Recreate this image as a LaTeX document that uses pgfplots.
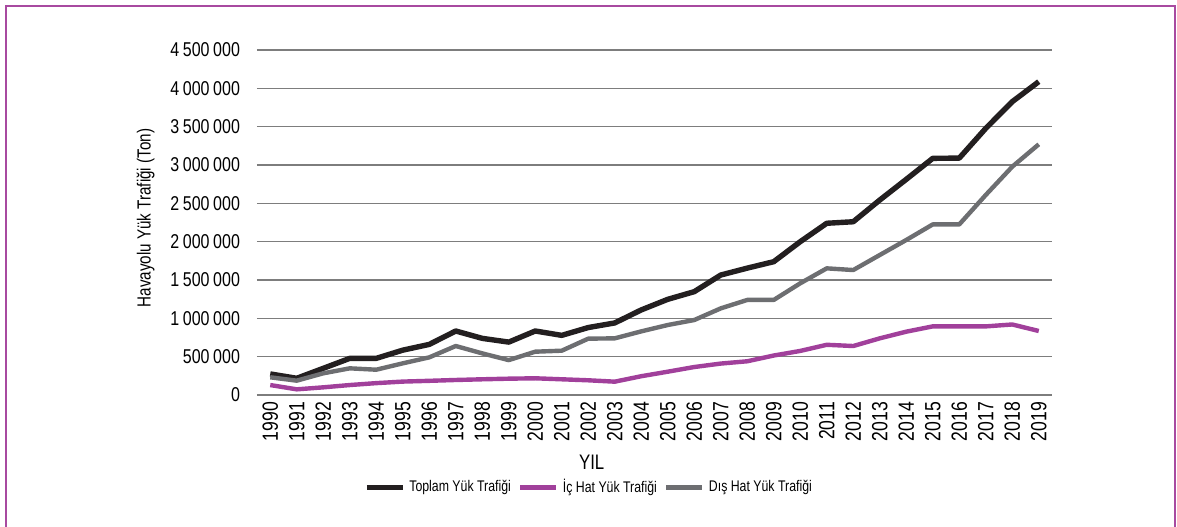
\documentclass[border=0pt]{standalone}
\usepackage{fontspec}
\setmainfont[FakeStretch=0.8]{Liberation Sans}
\usepackage{pgfplots}
\pgfplotsset{compat=1.18}
\definecolor{toplam}{RGB}{35,31,32}
\definecolor{ichat}{RGB}{161,64,155}
\definecolor{dishat}{RGB}{109,110,113}
\definecolor{frame}{RGB}{168,74,160}
\definecolor{gridc}{RGB}{125,125,125}
\newcommand{\ts}{\hspace{0.18em}}
\begin{document}
\begin{tikzpicture}
\begin{axis}[
  width=397.5pt, height=172.5pt, scale only axis,
  xmin=1989.5, xmax=2019.5,
  ymin=0, ymax=4500000,
  xtick={1990,...,2019},
  xticklabels={1990,1991,1992,1993,1994,1995,1996,1997,1998,1999,2000,2001,2002,2003,2004,2005,2006,2007,2008,2009,2010,2011,2012,2013,2014,2015,2016,2017,2018,2019},
  ytick={0,500000,1000000,1500000,2000000,2500000,3000000,3500000,4000000,4500000},
  yticklabels={0,500\ts000,1\ts000\ts000,1\ts500\ts000,2\ts000\ts000,2\ts500\ts000,3\ts000\ts000,3\ts500\ts000,4\ts000\ts000,4\ts500\ts000},
  scaled y ticks=false,
  axis line style={draw=none},
  major tick length=0pt,
  ymajorgrids,
  grid style={gridc, line width=0.6pt},
  xticklabel style={rotate=90, anchor=east, font=\fontsize{11}{12}\selectfont},
  yticklabel style={font=\fontsize{10}{12}\selectfont, xshift=-5pt},
  xlabel={YIL},
  xlabel style={at={(axis description cs:0.421,-0.194)}, anchor=center, font=\fontsize{10.5}{12}\selectfont},
  ylabel={Havayolu Yük Trafiği (Ton)},
  ylabel style={at={(axis description cs:-0.14,0.513)}, anchor=center, font=\fontsize{9.5}{11}\selectfont},
  legend columns=-1,
  legend style={draw=none, at={(axis description cs:0.419,-0.267)}, anchor=center,
    font=\fontsize{7.7}{10}\selectfont,
    /tikz/every even column/.append style={column sep=1.5pt}},
  legend image code/.code={\draw[#1, line width=2.5pt] (0pt,0pt) -- (18pt,0pt);},
  every axis plot/.append style={line join=round, no markers},
]
\addplot[toplam, line width=2.7pt] coordinates {
 (1990,275000) (1991,218000) (1992,348000) (1993,478000) (1994,478000)
 (1995,585000) (1996,660000) (1997,835000) (1998,739000) (1999,690000)
 (2000,835000) (2001,778000) (2002,880000) (2003,940000) (2004,1110000)
 (2005,1248000) (2006,1348000) (2007,1565000) (2008,1655000) (2009,1739000)
 (2010,2000000) (2011,2240000) (2012,2260000) (2013,2543000) (2014,2813000)
 (2015,3087000) (2016,3090000) (2017,3478000) (2018,3826000) (2019,4087000)
};
\addlegendentry{Toplam Yük Trafiği}
\addplot[ichat, line width=2.2pt] coordinates {
 (1990,130000) (1991,74000) (1992,100000) (1993,130000) (1994,155000)
 (1995,175000) (1996,185000) (1997,196000) (1998,205000) (1999,213000)
 (2000,218000) (2001,205000) (2002,192000) (2003,174000) (2004,245000)
 (2005,304000) (2006,365000) (2007,410000) (2008,440000) (2009,515000)
 (2010,575000) (2011,655000) (2012,639000) (2013,739000) (2014,826000)
 (2015,895000) (2016,895000) (2017,895000) (2018,920000) (2019,835000)
};
\addlegendentry{İç Hat Yük Trafiği}
\addplot[dishat, line width=2.2pt] coordinates {
 (1990,231000) (1991,187000) (1992,283000) (1993,348000) (1994,330000)
 (1995,413000) (1996,491000) (1997,639000) (1998,543000) (1999,455000)
 (2000,565000) (2001,578000) (2002,735000) (2003,739000) (2004,830000)
 (2005,913000) (2006,978000) (2007,1130000) (2008,1240000) (2009,1240000)
 (2010,1457000) (2011,1652000) (2012,1630000) (2013,1826000) (2014,2022000)
 (2015,2225000) (2016,2225000) (2017,2609000) (2018,2978000) (2019,3270000)
};
\addlegendentry{Dış Hat Yük Trafiği}
\end{axis}
\draw[frame, line width=1.25pt] (-125.5pt,-66pt) -- (-125.5pt,194.5pt) -- (459pt,194.5pt) -- (459pt,-66pt);
\pgfresetboundingbox
\useasboundingbox (-128.5pt,-65.5pt) rectangle (460pt,197.5pt);
\end{tikzpicture}
\end{document}
